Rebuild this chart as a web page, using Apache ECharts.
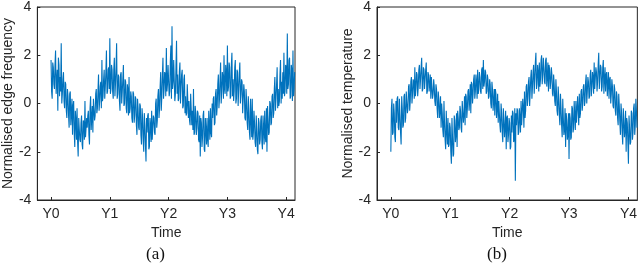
<!DOCTYPE html>
<html>
<head>
<meta charset="utf-8">
<script src="https://cdn.jsdelivr.net/npm/echarts@6/dist/echarts.min.js"></script>
<style>html,body{margin:0;padding:0;background:#fff}#c{width:640px;height:271px}</style>
</head>
<body>
<div id="c"></div>
<script>
// Samples twice a week-slot (start and mid), 52 slots per year, starting at Y0
const weeksPerYear = 52;
const tickYears = [0, 1, 2, 3, 4];
const tickLabels = ['Y0', 'Y1', 'Y2', 'Y3', 'Y4'];

// (a) Normalised edge frequency — start-of-week samples
const edgeYear0 = [1.8,0.2,1.5,0.6,2.2,0.9,-0.3,1.6,1.1,2.5,0.4,1.3,-0.2,
  0.8,-0.6,0.3,-1.0,0.5,-0.4,-1.3,0.1,-1.8,-0.7,-0.2,-2.2,-1.1,
  -1.6,-0.5,-1.9,-0.8,0.1,-1.4,-1.0,-0.3,-1.7,0.3,-0.6,-1.2,0.2,
  -0.5,0.6,-0.2,1.2,0.1,0.9,1.8,0.3,1.4,0.7,2.2,0.5,1.5];
const edgeYear1 = [2.7,0.6,1.4,0.2,1.9,0.8,2.5,0.4,1.1,-0.3,1.3,0.5,1.6,
  0.0,0.9,-0.4,0.6,1.1,-0.2,0.3,-0.8,0.4,-0.5,0.2,-1.3,-0.2,
  -1.1,-0.1,-1.7,-0.6,-2.0,-0.9,-2.4,-1.2,-0.4,-1.8,-0.9,-0.3,-1.5,
  -0.6,-1.3,0.2,-0.7,0.6,-0.2,1.3,0.3,1.9,0.6,1.2,2.3,0.8];
const edgeYear2 = [1.6,0.5,2.4,3.2,0.9,1.8,0.4,2.6,1.2,0.2,1.7,0.7,1.4,
  -0.1,1.2,0.3,-0.4,0.8,0.1,-0.9,0.4,-0.3,0.6,-1.2,-0.4,-1.0,
  -0.4,-1.6,-2.2,-0.8,-1.4,-0.3,-2.0,-1.1,-0.6,-1.8,-0.9,-0.2,-1.4,
  -0.6,0.3,-0.8,0.6,-0.1,1.2,0.2,1.7,0.5,1.1,2.0,0.4,1.3];
const edgeYear3 = [2.4,0.7,1.5,0.3,2.1,1.0,0.5,1.8,0.2,1.3,0.6,1.7,0.4,
  0.9,-0.4,0.5,-0.7,0.1,-1.1,-0.3,-1.5,-0.6,0.2,-1.2,-0.8,-1.8,
  -1.1,-2.1,-0.8,-1.5,-0.5,-1.9,-1.0,-0.3,-1.6,-2.0,-0.7,-1.2,0.0,
  -0.8,0.4,-0.4,1.1,0.2,1.5,0.6,0.1,1.8,0.9,1.3,2.1,0.5];
const edgeYear4 = [1.5,2.9,0.8,1.9,0.3,1.4,2.2,0.6];
// (a) mid-week samples
const edgeMid0 = [0.5,1.7,0.8,1.6,0.4,1.4,1.9,0.3,0.5,0.0,1.0,0.1,0.9,
  -0.3,0.6,-0.5,0.4,-0.9,0.2,-0.1,-1.2,-0.3,-1.5,-1.6,-0.6,-1.5,
  -0.8,-1.7,-0.7,-1.5,-1.4,-0.6,-0.5,-1.3,-0.2,-1.1,-0.1,0.2,-0.7,
  0.4,-0.4,0.5,-0.3,0.7,-0.2,0.1,1.0,0.2,1.3,0.4,1.4,0.6];
const edgeMid1 = [0.4,1.6,0.5,1.4,0.3,1.5,0.2,1.2,0.1,1.2,0.0,1.0,-0.1,
  1.0,-0.2,0.8,-0.5,-0.4,0.5,-0.6,0.5,-0.8,0.3,-0.9,0.2,-1.0,
  0.0,-1.3,-0.2,-1.5,-0.4,-1.7,-0.6,-0.5,-1.9,-0.6,-1.6,-1.5,-0.5,
  -1.2,0.0,-1.0,0.3,-0.6,0.7,-0.3,1.2,0.2,1.3,0.3,0.5,1.6];
const edgeMid2 = [0.3,1.7,0.2,0.6,1.8,0.1,1.5,0.4,0.1,1.3,0.0,1.2,-0.2,
  1.0,-0.4,-0.5,0.8,-0.6,-0.7,0.4,-0.9,-1.1,-1.3,-0.1,-1.3,-0.3,
  -1.5,-0.5,-0.6,-1.8,-0.5,-1.9,-0.6,-1.7,-1.5,-0.3,-1.5,-1.2,0.0,
  0.2,-0.9,0.4,-0.5,0.8,-0.2,1.0,0.0,1.3,0.2,0.6,1.6,0.3];
const edgeMid3 = [0.5,1.7,0.2,1.6,0.3,0.1,1.5,0.0,1.4,-0.1,1.2,0.0,1.0,
  -0.4,0.8,-0.6,0.6,-0.8,0.3,-1.2,0.2,-1.4,-1.5,-0.3,-1.6,-0.5,
  -1.9,-0.6,-1.7,-0.7,-1.6,-0.5,-1.7,-1.4,-0.2,-0.1,-1.3,0.1,-0.9,
  0.3,-0.6,0.6,-0.3,0.8,-0.2,-0.1,1.2,0.0,0.2,0.4,0.3,1.6];
const edgeMid4 = [0.4,0.6,1.8,0.2,1.6,0.1,0.3,1.3];

// (b) Normalised temperature — start-of-week samples
const tempYear0 = [-2.0,0.2,-1.2,-0.4,-1.6,-0.8,0.3,-1.1,-0.5,-1.7,-0.2,-0.9,0.4,
  -0.6,0.5,-0.2,0.8,0.1,1.1,0.4,0.9,1.5,0.6,1.2,0.7,1.6,
  1.0,1.9,0.6,1.4,1.0,1.7,0.5,1.2,0.8,0.2,1.1,0.4,0.7,
  -0.1,0.6,-0.6,0.2,-0.3,-1.0,-0.4,-1.4,-0.8,-1.9,-1.1,-0.6,-1.7];
const tempYear1 = [-1.0,-2.5,-1.4,-2.1,-0.7,-1.3,-1.8,-0.6,-1.0,-0.3,-1.2,0.1,-0.5,
  -0.9,0.3,-0.2,0.6,0.1,-0.4,0.8,0.4,1.2,0.5,0.9,1.4,0.6,
  1.1,0.4,1.5,1.8,0.9,1.3,0.5,1.0,0.3,0.8,-0.2,0.6,0.1,
  -0.5,0.4,-0.2,-0.8,0.1,-1.2,-0.4,-1.6,-0.7,-1.0,-1.9,-0.5,-1.3];
const tempYear2 = [-0.8,-1.8,-1.2,-0.4,-1.5,-3.2,-0.9,-0.3,-1.2,-0.6,0.1,-0.9,-0.2,
  0.5,-0.3,0.8,0.2,1.1,0.5,1.4,0.7,1.6,1.0,2.1,0.8,1.3,
  1.7,1.0,2.0,1.2,1.5,0.8,1.9,1.1,0.5,1.4,0.9,1.2,0.3,
  0.8,-0.1,0.5,-0.5,0.2,-0.9,-0.2,-1.4,-0.6,-1.1,-1.8,-0.7,-1.3];
const tempYear3 = [-2.3,-0.6,-1.4,-0.2,-1.0,-0.5,0.1,-0.8,-0.3,0.4,-0.4,0.6,0.0,
  0.8,0.1,1.2,0.5,0.9,0.3,1.4,0.7,1.1,1.7,0.6,1.3,0.9,
  2.1,1.1,1.5,0.7,1.8,1.0,0.5,1.3,0.8,0.2,1.1,0.4,0.7,
  -0.2,0.6,-0.5,0.3,-0.9,-0.1,-1.3,-0.4,-1.7,-0.7,-1.1,-2.0,-0.8];
const tempYear4 = [-2.5,-1.0,-1.6,-0.4,-1.2,0.0,-0.9,-0.3];
// (b) mid-week samples
const tempMid0 = [-0.2,-1.3,0.0,-1.4,0.1,0.2,-1.0,0.2,-1.2,0.3,-1.0,0.3,-0.8,
  0.5,-0.4,0.7,-0.3,0.9,0.0,1.0,0.2,0.3,1.3,0.3,1.4,0.6,
  1.5,0.5,1.5,0.6,1.4,0.4,1.3,0.5,1.2,1.1,0.2,1.0,0.1,
  0.8,-0.2,0.5,-0.6,0.3,0.0,-1.1,0.1,-1.5,-0.3,-1.7,-1.8,-0.8];
const tempMid1 = [-2.0,-0.6,-2.2,-0.5,-1.6,-0.4,-0.3,-1.1,-0.1,-1.0,0.1,-0.8,0.3,
  0.4,-0.6,0.5,-0.3,0.8,0.9,0.0,1.0,0.2,1.2,0.2,0.4,1.3,
  0.5,1.4,0.6,0.7,1.4,0.4,1.2,0.2,1.0,0.0,0.9,-0.3,0.6,
  0.6,-0.6,0.4,0.1,-0.9,0.0,-1.2,-0.2,-1.4,-0.3,-0.6,-1.6,-0.6];
const tempMid2 = [-1.9,-0.5,-0.3,-1.6,-0.2,-0.4,-0.2,-1.3,-0.2,-1.2,-0.9,0.2,-1.0,
  -0.6,0.7,-0.1,0.9,-0.1,1.1,0.2,1.3,0.4,1.7,0.6,1.6,0.5,
  0.7,1.8,0.8,1.9,0.9,1.8,0.7,1.7,1.6,0.6,1.5,0.4,1.2,
  0.1,1.0,-0.3,0.7,-0.5,0.4,-0.9,0.2,-1.3,-0.2,-0.4,-1.5,-0.4];
const tempMid3 = [-0.4,-1.5,-0.1,-1.2,0.1,-1.1,-0.8,0.3,-0.9,-0.6,0.5,-0.3,0.7,
  -0.1,0.9,0.0,1.1,0.2,1.2,0.3,1.3,0.4,0.6,1.5,0.5,1.6,
  0.6,1.6,0.5,1.5,0.4,1.5,1.2,0.3,1.3,1.0,0.0,1.0,-0.1,
  0.8,-0.3,0.5,-0.6,0.4,-0.8,0.0,-1.2,-0.2,-1.4,-0.3,-0.6,-1.6];
const tempMid4 = [-0.5,-1.7,-0.3,-1.5,-0.2,-1.3,0.2,-1.0];

function toPairs(starts, mids) {
  const out = [];
  let idx = 0;
  starts.forEach((arr, k) => arr.forEach((v, j) => {
    out.push([idx / weeksPerYear, v]);
    out.push([(idx + 0.5) / weeksPerYear, mids[k][j]]);
    idx++;
  }));
  return out;
}
const edgeData = toPairs([edgeYear0, edgeYear1, edgeYear2, edgeYear3, edgeYear4],
                         [edgeMid0, edgeMid1, edgeMid2, edgeMid3, edgeMid4]);
const tempData = toPairs([tempYear0, tempYear1, tempYear2, tempYear3, tempYear4],
                         [tempMid0, tempMid1, tempMid2, tempMid3, tempMid4]);

const txt = '#262626';
const font = 'Liberation Sans, Arial, sans-serif';
const fs = 14;
function xAxis(gi) {
  return {
    type: 'value', gridIndex: gi, min: -0.233, max: 4.15,
    name: 'Time', nameLocation: 'middle', nameGap: 24,
    nameTextStyle: { color: txt, fontSize: fs, fontFamily: font },
    axisLine: { show: true, onZero: false, lineStyle: { color: txt, width: 1 } },
    axisTick: { show: true, inside: true, length: 3, customValues: tickYears, lineStyle: { color: txt } },
    axisLabel: { show: true, customValues: tickYears, margin: 7, color: txt, fontSize: fs, fontFamily: font,
      formatter: v => tickLabels[tickYears.indexOf(Math.round(v))] },
    splitLine: { show: false }
  };
}
function yAxis(gi, name, gap) {
  return {
    type: 'value', gridIndex: gi, min: -4, max: 4, interval: 2,
    name: name, nameLocation: 'middle', nameGap: gap, nameRotate: 90,
    nameTextStyle: { color: txt, fontSize: fs, fontFamily: font },
    axisLine: { show: true, onZero: false, lineStyle: { color: txt, width: 1 } },
    axisTick: { show: true, inside: true, length: 3, lineStyle: { color: txt } },
    axisLabel: { show: true, margin: 6, color: txt, fontSize: fs, fontFamily: font },
    splitLine: { show: false }
  };
}
const chart = echarts.init(document.getElementById('c'), null, { renderer: 'canvas' });
chart.setOption({
  animation: false,
  backgroundColor: '#fff',
  grid: [
    { left: 32, top: 5, width: 263, height: 195, show: true, borderColor: txt, borderWidth: 1, backgroundColor: 'transparent' },
    { left: 377, top: 5, width: 262, height: 195, show: true, borderColor: txt, borderWidth: 1, backgroundColor: 'transparent' }
  ],
  xAxis: [xAxis(0), xAxis(1)],
  yAxis: [yAxis(0, 'Normalised edge frequency', 19), yAxis(1, 'Normalised temperature', 22)],
  series: [
    { type: 'line', xAxisIndex: 0, yAxisIndex: 0, data: edgeData, showSymbol: false, symbol: 'none',
      lineStyle: { color: '#0072BD', width: 1.1 }, clip: true },
    { type: 'line', xAxisIndex: 1, yAxisIndex: 1, data: tempData, showSymbol: false, symbol: 'none',
      lineStyle: { color: '#0072BD', width: 1.1 }, clip: true }
  ],
  graphic: [
    { type: 'text', left: 146, top: 246, style: { text: '(a)', font: '17px "Liberation Serif", "DejaVu Serif", serif', fill: '#111' } },
    { type: 'text', left: 487, top: 246, style: { text: '(b)', font: '17px "Liberation Serif", "DejaVu Serif", serif', fill: '#111' } }
  ]
});
</script>
</body>
</html>
